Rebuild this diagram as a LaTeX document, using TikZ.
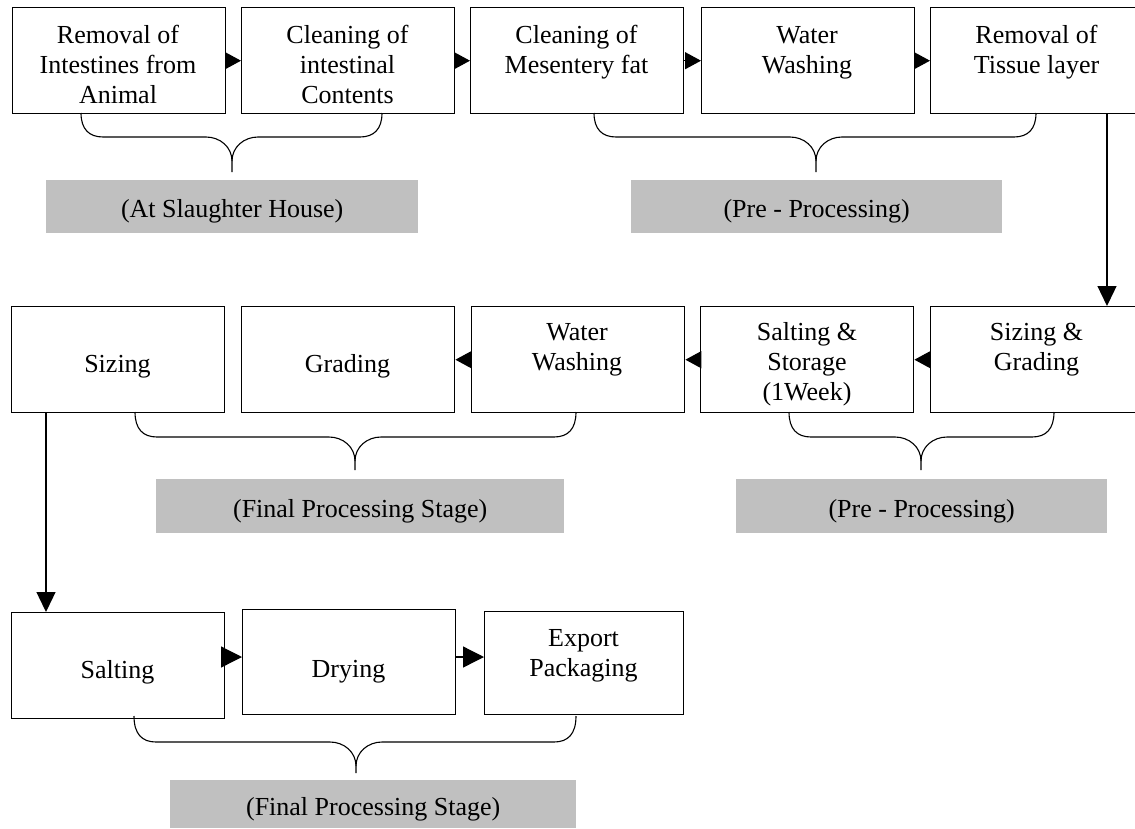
\documentclass[tikz,border=0pt]{standalone}
\usepackage{fontspec}
\setmainfont{Liberation Serif}
\usetikzlibrary{arrows.meta}
\definecolor{graybox}{RGB}{192,192,192}
\newcommand{\mlines}[1]{\begin{tabular}[t]{@{}c@{}}#1\end{tabular}}
% brace: x1, x2, xm, ytop, yhoriz, ytip
\newcommand{\bracepath}[6]{%
  \draw[brc] (#1,#4) .. controls (#1,#5-8) and (#1+8,#5) .. (#1+22,#5)
     -- (#3-26,#5) .. controls (#3-12,#5) and (#3,#5+10) .. (#3,#5+24) -- (#3,#6);
  \draw[brc] (#3,#5+24) .. controls (#3,#5+10) and (#3+12,#5) .. (#3+26,#5)
     -- (#2-22,#5) .. controls (#2-8,#5) and (#2,#5-8) .. (#2,#4);}
\begin{document}
\begin{tikzpicture}[x=1pt,y=-1pt,
  box/.style={draw, line width=1.4pt, anchor=north west, inner sep=0pt,
              minimum width=213pt, minimum height=106pt},
  txt/.style={anchor=base, inner sep=0pt, font=\fontsize{26pt}{30pt}\selectfont},
  gbox/.style={fill=graybox, anchor=north west, inner sep=0pt, minimum height=53pt,
               text height=27pt, text depth=5pt,
               font=\fontsize{26pt}{30pt}\selectfont},
  brc/.style={line width=1.1pt},
  harr/.style={line width=1.3pt, -{Triangle[length=16pt,width=17pt]}},
  harrb/.style={line width=1.3pt, -{Triangle[length=21pt,width=21pt]}},
  varr/.style={line width=1.3pt, -{Triangle[length=20pt,width=19pt]}}]
\clip (0,0) rectangle (1135,828);
\fill[white] (0,0) rectangle (1135,828);

% Row 1
\node[box] (r1b1) at (12,7) {};
\node[box] (r1b2) at (241,7) {};
\node[box] (r1b3) at (470,7) {};
\node[box] (r1b4) at (701,7) {};
\node[box] (r1b5) at (930,7) {};
\node[txt] (t11) at (118,43) {\mlines{Removal of\\Intestines from\\Animal}};
\node[txt] (t12) at (347.5,43) {\mlines{Cleaning of\\intestinal\\Contents}};
\node[txt] (t13) at (576.5,43) {\mlines{Cleaning of\\Mesentery fat}};
\node[txt] (t14) at (807,43) {\mlines{Water\\Washing}};
\node[txt] (t15) at (1036.5,43) {\mlines{Removal of\\Tissue layer}};
\draw[harr] (r1b1.east) -- (r1b2.west);
\draw[harr] (r1b2.east) -- (r1b3.west);
\draw[harr] (r1b3.east) -- (r1b4.west);
\draw[harr] (r1b4.east) -- (r1b5.west);

\bracepath{81}{382}{232}{113}{137}{172}
\bracepath{594}{1036}{816}{113}{137}{172}
\node[gbox, minimum width=372pt] (g1) at (46,180) {(At Slaughter House)};
\node[gbox, minimum width=371pt] (g2) at (631,180) {(Pre - Processing)};

% Row 2
\node[box] (r2b1) at (11,306) {};
\node[box] (r2b2) at (241,306) {};
\node[box] (r2b3) at (471,306) {};
\node[box] (r2b4) at (700,306) {};
\node[box] (r2b5) at (930,306) {};
\node[txt] (t21) at (117.5,372) {Sizing};
\node[txt] (t22) at (347.5,372) {Grading};
\node[txt] (t23) at (577,340) {\mlines{Water\\Washing}};
\node[txt] (t24) at (807,340) {\mlines{Salting \&\\Storage\\(1Week)}};
\node[txt] (t25) at (1036.5,340) {\mlines{Sizing \&\\Grading}};
\draw[harr] (r2b5.west) -- (r2b4.east);
\draw[harr] (r2b4.west) -- (r2b3.east);
\draw[harr] (r2b3.west) -- (r2b2.east);

\coordinate (v1) at (1107,0);
\draw[varr] (r1b5.south -| v1) -- (r2b5.north -| v1);

\bracepath{135}{576}{355}{412}{437}{470}
\bracepath{789}{1054}{921}{412}{437}{470}
\node[gbox, minimum width=408pt, minimum height=54pt] (g3) at (156,479) {(Final Processing Stage)};
\node[gbox, minimum width=371pt, minimum height=54pt] (g4) at (736,479) {(Pre - Processing)};

% Row 3
\node[box] (r3b1) at (11,612) {};
\node[box, minimum height=105pt] (r3b2) at (242,609) {};
\node[box, minimum width=199pt, minimum height=103pt] (r3b3) at (484,611) {};
\node[txt] (t31) at (117.5,678) {Salting};
\node[txt] (t32) at (348.5,677) {Drying};
\node[txt] (t33) at (583.5,646) {\mlines{Export\\Packaging}};
\coordinate (h3) at (0,657);
\draw[harrb] (r3b1.east |- h3) -- (r3b2.west |- h3);
\draw[harrb] (r3b2.east |- h3) -- (r3b3.west |- h3);

\coordinate (v2) at (46,0);
\draw[varr] (r2b1.south -| v2) -- (r3b1.north -| v2);

\bracepath{134}{576}{356}{716}{742}{773}
\node[gbox, minimum width=406pt, minimum height=48pt] (g5) at (170,780) {(Final Processing Stage)};
\end{tikzpicture}
\end{document}
